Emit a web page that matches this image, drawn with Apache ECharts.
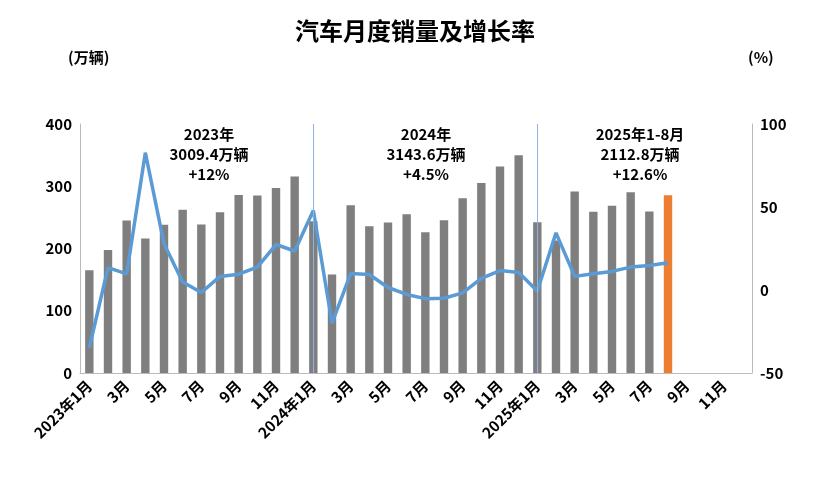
<!DOCTYPE html>
<html><head><meta charset="utf-8">
<script src="https://cdn.jsdelivr.net/npm/echarts@6/dist/echarts.min.js"></script>
<style>html,body{margin:0;padding:0;background:#fff}#c{width:830px;height:493px}</style>
</head><body><div id="c"></div>
<script>
const categories = [];
['2023','2024','2025'].forEach(y=>{for(let m=1;m<=12;m++)categories.push(m===1?y+'年1月':m+'月');});
const sales = [164.9,197.6,245.1,215.9,238.2,262.2,238.7,258.2,285.8,285.3,297.0,315.6,
  243.9,158.4,269.4,235.9,241.7,255.2,226.2,245.3,280.9,305.3,331.6,349.9,
  242.3,212.9,291.5,259.0,268.5,290.4,259.3,285.7];
const growth = [-34.8,13.5,9.7,82.7,27.9,4.8,-1.5,8.2,9.5,13.8,27.4,23.5,
  47.9,-19.9,9.9,9.3,1.5,-2.7,-5.2,-5.0,-1.7,7.0,11.7,10.5,
  -0.6,34.4,8.2,9.8,11.2,13.8,14.7,16.4];
const leftTicks=[0,100,200,300,400], rightTicks=[-50,0,50,100];
const notes=[['2023年','3009.4万辆','+12%'],['2024年','3143.6万辆','+4.5%'],['2025年1-8月','2112.8万辆','+12.6%']];
const chart=echarts.init(document.getElementById('c'));
const lbl={color:'#000',fontWeight:'bold',fontSize:15,fontFamily:'Noto Sans CJK SC'};
chart.setOption({
  title:{text:'汽车月度销量及增长率',left:'center',top:14,textStyle:{fontSize:24,fontWeight:'bold',color:'#000',fontFamily:'Noto Sans CJK SC'}},
  grid:{left:80,right:78,top:124,bottom:120},
  graphic:[
    {type:'text',left:68,top:50,style:{text:'(万辆)',font:'bold 15px "Noto Sans CJK SC"',fill:'#000'}},
    {type:'text',left:748,top:50,style:{text:'(%)',font:'bold 15px "Noto Sans CJK SC"',fill:'#000'}},
    ...notes.map((n,i)=>({type:'text',x:[209,426,640][i],y:124,style:{text:n.join('\n'),font:'bold 15px "Noto Sans CJK SC"',fill:'#000',align:'center',lineHeight:20}}))
  ],
  xAxis:{type:'category',data:categories,axisTick:{show:false},axisLine:{lineStyle:{color:'#bbb'}},
    axisLabel:Object.assign({interval:1,rotate:45,margin:10},lbl)},
  yAxis:[
    {type:'value',min:0,max:400,interval:100,splitLine:{show:false},axisLine:{show:true,lineStyle:{color:'#bbb'}},axisLabel:lbl},
    {type:'value',min:-50,max:100,interval:50,splitLine:{show:false},axisLine:{show:true,lineStyle:{color:'#bbb'}},axisLabel:lbl}
  ],
  series:[
    {type:'bar',data:sales.map((v,i)=>({value:v,itemStyle:{color:i===31?'#ed7d31':'#7f7f7f'}})),barWidth:'45%',
      markLine:{symbol:'none',silent:true,label:{show:false},lineStyle:{color:'#8db4e2',type:'solid',width:1},
        data:[{xAxis:12},{xAxis:24}]}},
    {type:'line',yAxisIndex:1,data:growth,symbol:'none',lineStyle:{color:'#5b9bd5',width:3.5},itemStyle:{color:'#5b9bd5'}}
  ]
});
</script></body></html>
